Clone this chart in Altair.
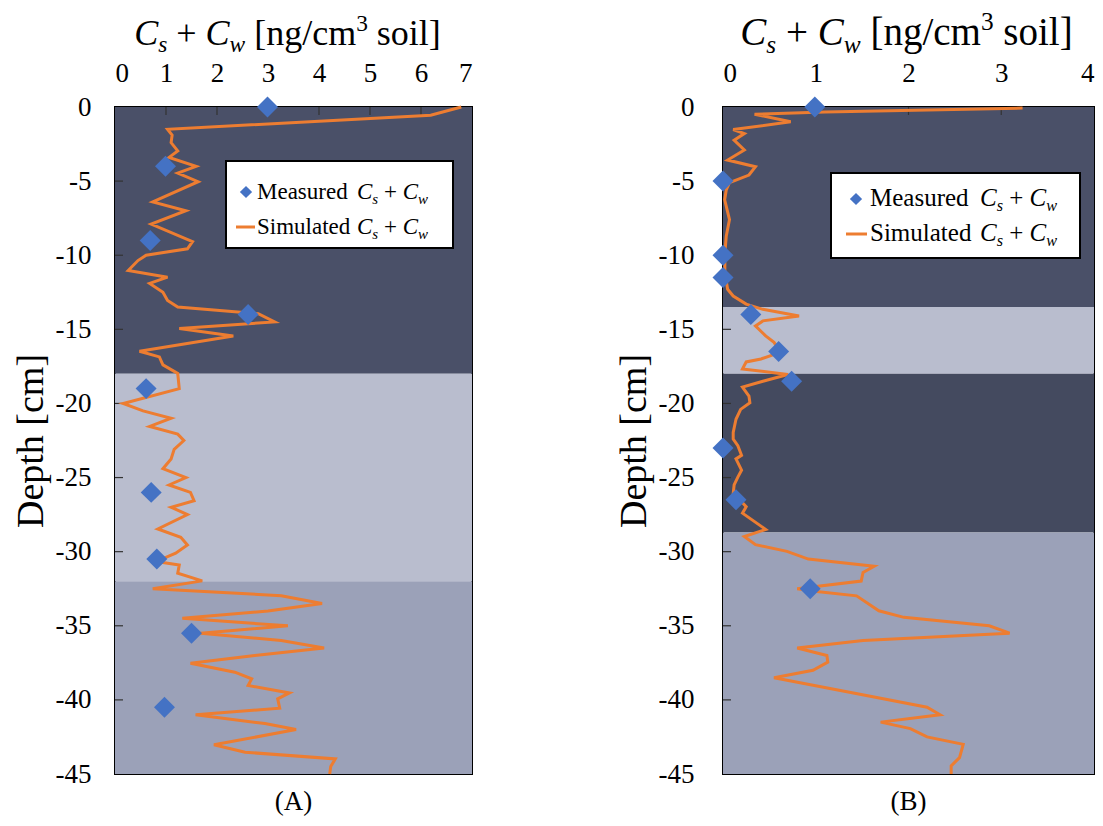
import altair as alt
import pandas as pd

# ---------------- data ----------------
# Panel A
a_sim_depth = [0, -0.56, -1.5, -1.9, -2.4, -2.96, -3.4, -4.0, -4.46, -5.04, -6.4, -7.0, -7.9, -9.08, -9.57,
               -10.0, -10.36, -11.03, -11.48, -11.9, -12.5, -13.05, -13.5, -13.95, -14.5, -14.95, -15.45,
               -16.48, -16.86, -17.4, -17.98, -19.0, -20.0, -20.5, -21.0, -21.55, -22.07, -22.5, -23.1,
               -23.75, -24.4, -25.0, -25.5, -26.0, -26.56, -27.0, -27.5, -28.47, -29.03, -29.55, -30.1,
               -30.66, -30.9, -31.45, -31.97, -32.5, -32.7, -32.97, -33.5, -34.0, -34.5, -35.0, -35.5,
               -36.0, -36.5, -37.0, -37.53, -38.13, -38.58, -39.03, -39.53, -39.93, -40.56, -41.0, -41.6,
               -42.0, -43.03, -43.53, -43.98, -44.5, -45.0]
a_sim_val = [6.79, 6.19, 1.03, 1.12, 1.10, 1.23, 1.06, 1.59, 1.23, 1.63, 0.74, 1.39, 0.71, 1.52, 1.42,
             0.61, 0.45, 0.26, 1.03, 0.68, 0.94, 1.03, 1.23, 2.81, 3.13, 1.26, 2.32,
             0.48, 0.87, 0.94, 1.23, 1.26, 0.16, 0.55, 1.10, 0.68, 1.23, 1.35, 1.16,
             1.10, 0.94, 1.39, 1.06, 1.48, 1.55, 1.10, 1.42, 0.84, 1.29, 1.42, 1.19,
             0.81, 1.26, 1.23, 1.71, 0.74, 1.84, 3.26, 4.06, 3.00, 1.32, 3.39, 1.68,
             3.26, 4.10, 2.74, 1.48, 2.35, 2.68, 2.61, 3.42, 3.19, 3.23, 1.58, 2.94,
             3.55, 1.94, 2.55, 4.32, 4.23, 4.21]
a_meas_depth = [0, -4, -9, -14, -19, -26, -30.5, -35.5, -40.5]
a_meas_val = [2.99, 0.99, 0.69, 2.61, 0.61, 0.71, 0.82, 1.50, 0.97]
a_band_top = [0, -18, -32]
a_band_bot = [-18, -32, -45]
a_band_col = ["#4A5068", "#B9BDCE", "#9BA1B8"]

# Panel B
b_sim_depth = [-0.07, -0.34, -0.49, -1.0, -1.52, -1.79, -2.24, -2.9, -3.58, -4.03, -4.59, -5.1, -5.6,
               -6.26, -7.6, -8.72, -9.84, -11.2, -12.3, -12.75, -13.3, -13.65, -14.1, -14.43, -14.77,
               -15.44, -15.88, -16.55, -17.0, -17.2, -17.67, -18.05, -18.5, -18.9, -19.5, -19.96, -20.4,
               -21.07, -21.96, -22.4, -22.85, -23.5, -23.74, -24.5, -24.97, -25.5, -26.08, -26.5,
               -26.97, -27.4, -28.5, -28.98, -29.53, -29.98, -30.5, -30.98, -31.4, -31.98, -32.5,
               -32.65, -32.98, -33.99, -34.43, -35.0, -35.5, -36.0, -36.5, -37.0, -37.45, -38.0,
               -38.5, -39.55, -40.5, -41.0, -41.5, -41.94, -42.5, -43.0, -43.9, -44.45, -45.0]
b_sim_val = [3.23, 1.10, 0.34, 0.73, 0.11, 0.23, 0.12, 0.23, 0.05, 0.35, 0.28, 0.07, 0.035,
             0.018, 0.07, 0.035, 0.02, 0.02, 0.05, 0.11, 0.25, 0.43, 0.82, 0.43, 0.35,
             0.46, 0.55, 0.62, 0.41, 0.25, 0.21, 0.70, 0.43, 0.21, 0.28, 0.29, 0.19,
             0.14, 0.11, 0.11, 0.16, 0.20, 0.14, 0.20, 0.16, 0.12, 0.11, 0.18,
             0.25, 0.21, 0.46, 0.23, 0.35, 0.69, 0.92, 1.63, 1.51, 1.49, 0.80,
             0.96, 1.44, 1.68, 1.95, 2.87, 3.09, 1.51, 0.80, 1.12, 1.13, 0.97,
             0.55, 1.42, 2.20, 2.34, 1.70, 2.02, 2.20, 2.59, 2.55, 2.46, 2.46]
b_meas_depth = [0, -5, -10, -11.5, -14, -16.5, -18.5, -23, -26.5, -32.5]
b_meas_val = [0.99, 0, 0, 0, 0.30, 0.60, 0.74, 0, 0.14, 0.94]
b_band_top = [0, -13.5, -18, -28.7]
b_band_bot = [-13.5, -18, -28.7, -45]
b_band_col = ["#4A5068", "#B9BDCE", "#444A5F", "#9BA1B8"]

depth_ticks = [-45, -40, -35, -30, -25, -20, -15, -10, -5, 0]
inner_y_ticks = [-40, -35, -30, -25, -20, -15, -10, -5]

FONT = "Liberation Serif"
ORANGE = "#ED7D31"
BLUE = "#4472C4"

# --------- rich text helper (italic / subscript pieces) ---------
W_REG = {"C": .667, "s": .389, "+": .564, " ": .25, "[": .333, "n": .5, "g": .5, "/": .278,
         "c": .444, "m": .778, "3": .5, "o": .5, "i": .278, "l": .278, "]": .333, "w": .722,
         "M": .889, "e": .444, "a": .444, "u": .5, "r": .333, "d": .5, "S": .556, "t": .278,
         "(": .333, ")": .333, "A": .722, "B": .667}
W_IT = {"C": .667, "s": .389, "w": .667, " ": .25}


def rich(segs, x, y, size, anchor="left"):
    widths = []
    for text, it, sc, dy in segs:
        tbl = W_IT if it else W_REG
        widths.append(sum(tbl.get(ch, .5) for ch in text) * size * sc)
    total = sum(widths)
    cx = x - total / 2 if anchor == "center" else x
    rows = []
    for (text, it, sc, dy), w in zip(segs, widths):
        fs = size * sc
        lead = len(text) - len(text.lstrip(" "))
        core = text.strip(" ")
        if core:
            rows.append({"px": cx + lead * W_REG[" "] * fs, "py": y + dy * size, "t": core,
                         "fs": fs, "it": it})
        cx += w
    return rows


def cs_cw():
    return [("C", True, 1, 0), ("s", True, 0.65, 0.2), (" + ", False, 1, 0),
            ("C", True, 1, 0), ("w", True, 0.65, 0.2)]


def title_segs():
    return cs_cw() + [(" [ng/cm", False, 1, 0), ("3", False, 0.65, -0.38), (" soil]", False, 1, 0)]


def text_layers(rows):
    df = pd.DataFrame(rows)
    layers = []
    for it in (True, False):
        sub = df[df["it"] == it]
        if len(sub) == 0:
            continue
        layers.append(
            alt.Chart(sub).mark_text(align="left", baseline="alphabetic", font=FONT, color="black",
                                     fontStyle="italic" if it else "normal")
            .encode(x=alt.X("px:Q", scale=None, axis=None),
                    y=alt.Y("py:Q", scale=None, axis=None),
                    text="t:N",
                    size=alt.Size("fs:Q", scale=None, legend=None))
        )
    return layers


def panel(sim_d, sim_v, meas_d, meas_v, bt, bb, bc, xmax, W, H, leg, lfs, caption, title_size,
          ylab_pad, title_base, title_dx):
    sim = pd.DataFrame({"d": sim_d, "v": sim_v, "i": list(range(len(sim_d)))})
    meas = pd.DataFrame({"d": meas_d, "v": meas_v})
    bands = pd.DataFrame({"top": bt, "bot": bb, "col": bc})
    xs = alt.Scale(domain=[0, xmax], nice=False, zero=False)
    ys = alt.Scale(domain=[-45, 0], nice=False, zero=False)

    bg = alt.Chart(bands).mark_rect().encode(
        x=alt.datum(0, scale=xs), x2=alt.datum(xmax),
        y=alt.Y("top:Q", scale=ys), y2="bot:Q",
        color=alt.Color("col:N", scale=None))

    yt = alt.Chart(pd.DataFrame({"v": inner_y_ticks})).mark_rule(color="#333", strokeWidth=1.2).encode(
        y=alt.Y("v:Q", scale=ys), x=alt.value(0), x2=alt.value(8))
    xt = alt.Chart(pd.DataFrame({"v": list(range(1, xmax))})).mark_rule(color="#333", strokeWidth=1.2).encode(
        x=alt.X("v:Q", scale=xs), y=alt.value(0), y2=alt.value(8))

    line = alt.Chart(sim).mark_line(color=ORANGE, strokeWidth=3).encode(
        x=alt.X("v:Q", scale=xs,
                axis=alt.Axis(orient="top", values=list(range(0, xmax + 1)), title=None,
                              labelExpr="'' + datum.value", labelPadding=20)),
        y=alt.Y("d:Q", scale=ys,
                axis=alt.Axis(values=depth_ticks, title="Depth [cm]", labelExpr="'' + datum.value",
                              labelPadding=ylab_pad, titlePadding=5)),
        order="i:Q")

    pts = alt.Chart(meas).mark_point(shape="diamond", filled=True, color=BLUE, opacity=1, size=440).encode(
        x=alt.X("v:Q", scale=xs), y=alt.Y("d:Q", scale=ys))

    # legend
    bx0, bx1, by0, by1, dx, dy, lx0, lx1, ly, tx, ty1, ty2, cx = leg
    box = alt.Chart(pd.DataFrame({"a": [0]})).mark_rect(fill="white", stroke="black", strokeWidth=2).encode(
        x=alt.value(bx0), x2=alt.value(bx1), y=alt.value(by0), y2=alt.value(by1))
    ldia = alt.Chart(pd.DataFrame({"a": [0]})).mark_point(shape="diamond", filled=True, color=BLUE,
                                                            opacity=1, size=150).encode(
        x=alt.value(dx), y=alt.value(dy))
    lline = alt.Chart(pd.DataFrame({"a": [0]})).mark_rule(color=ORANGE, strokeWidth=3).encode(
        x=alt.value(lx0), x2=alt.value(lx1), y=alt.value(ly))

    rows = []
    rows += rich([("Measured", False, 1, 0)], tx, ty1, lfs)
    rows += rich([("Simulated", False, 1, 0)], tx, ty2, lfs)
    rows += rich(cs_cw(), cx, ty1, lfs)
    rows += rich(cs_cw(), cx, ty2, lfs)
    rows += rich(title_segs(), W / 2 + title_dx, title_base, title_size, anchor="center")
    rows += rich([(caption, False, 1, 0)], W / 2, H + 36, 27, anchor="center")

    layers = [bg, yt, xt, line, pts, box, ldia, lline] + text_layers(rows)
    return alt.layer(*layers).properties(width=W, height=H)


A = panel(a_sim_depth, a_sim_val, a_meas_depth, a_meas_val, a_band_top, a_band_bot, a_band_col,
          7, 357, 667,
          (111, 338, 54, 141, 131, 85, 121, 140, 120, 142, 92, 127, 242), 23, "(A)", 36, 24, -62, -6)
B = panel(b_sim_depth, b_sim_val, b_meas_depth, b_meas_val, b_band_top, b_band_bot, b_band_col,
          4, 371, 667,
          (108, 357, 66, 151, 133, 92, 123, 144, 127, 147, 99, 134, 257), 25, "(B)", 39, 29, -62, -2)

chart = alt.hconcat(A, B, spacing=141).properties(
    padding={"left": 11, "top": 9, "right": 0, "bottom": 3},
    background="white"
).configure_view(stroke="black", strokeWidth=2).configure_axis(
    labelFont=FONT, labelFontSize=27, labelColor="black", titleFont=FONT, titleFontSize=38,
    titleFontWeight="normal", titleColor="black", ticks=False, grid=False, domain=False
)

chart.save("out.html", embed_options={"renderer": "svg", "actions": False})
